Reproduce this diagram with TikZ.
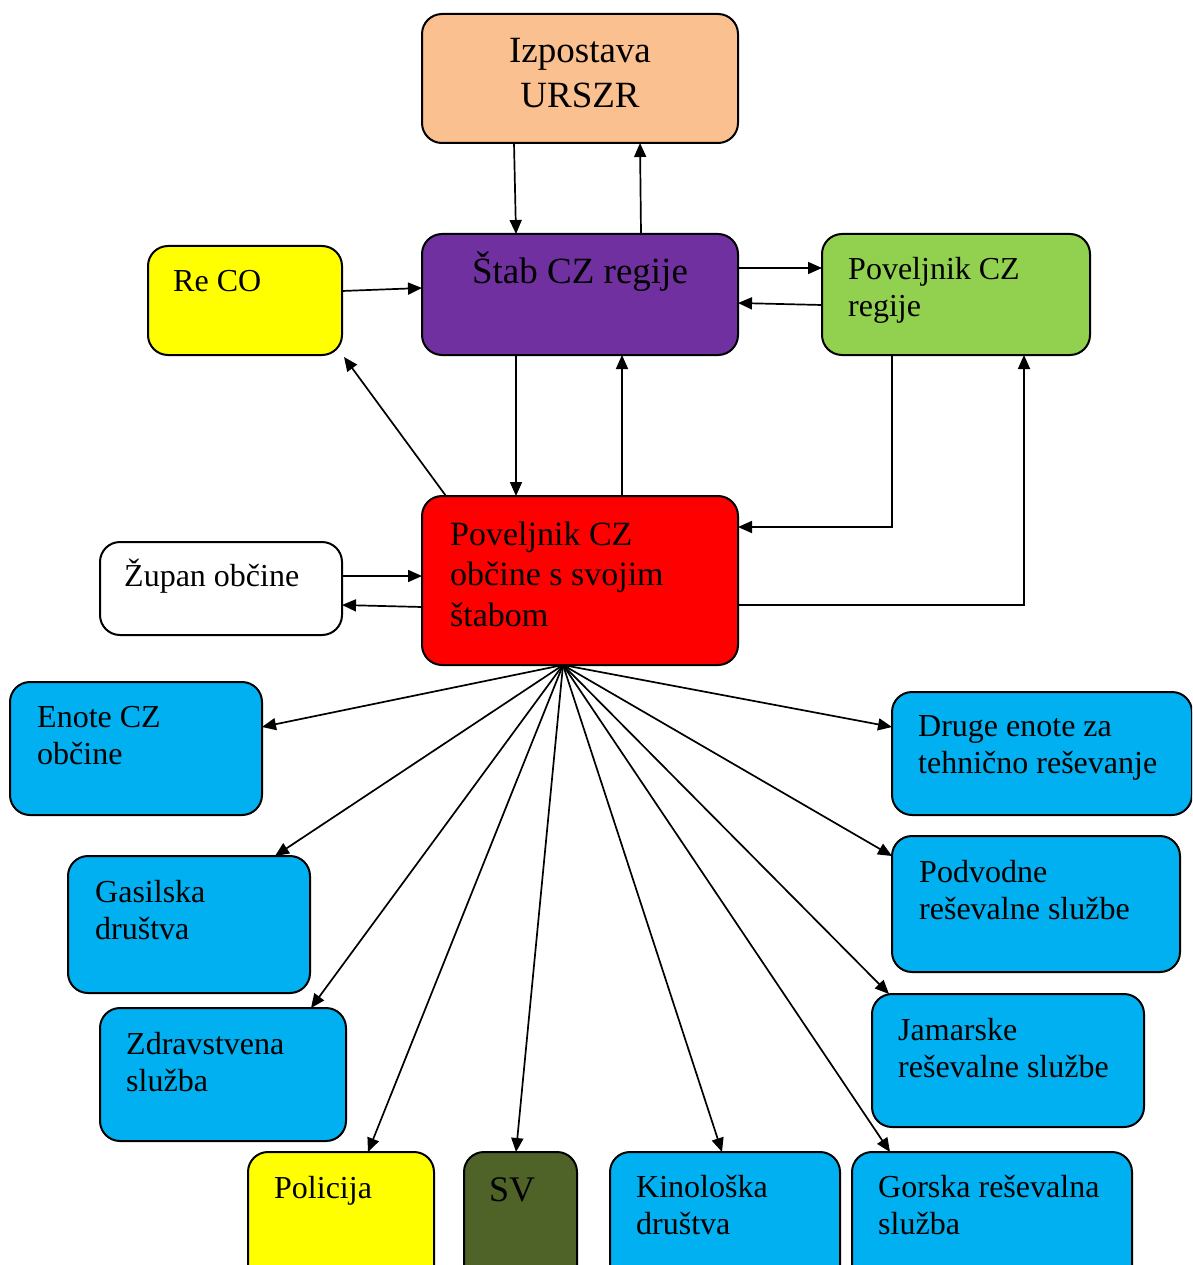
\documentclass[tikz,border=0pt]{standalone}
\usepackage{fontspec}
\setmainfont{Liberation Serif}
\usetikzlibrary{arrows.meta,calc}

\definecolor{peach}{HTML}{FAC090}
\definecolor{purpleB}{HTML}{7030A0}
\definecolor{greenB}{HTML}{92D050}
\definecolor{redB}{HTML}{FF0000}
\definecolor{blueB}{HTML}{00B0F0}
\definecolor{yellowB}{HTML}{FFFF00}
\definecolor{oliveB}{HTML}{4F6228}

\tikzset{
  box/.style={draw=black, line width=2pt, rounded corners=20pt, anchor=north west,
              outer sep=0pt, inner sep=0pt},
  % anchor = baseline of the last line of the text
  txt/.style={anchor=base west, inner sep=0pt, align=left,
              font=\fontsize{32}{37}\selectfont},
  arr/.style={line width=1.7pt, -{Triangle[length=14pt,width=12pt]}},
}

\begin{document}
\begin{tikzpicture}[x=1pt,y=-1pt]
\clip (0,0) rectangle (1192,1265);
\useasboundingbox (0,0) rectangle (1192,1265);

% boxes
\node[box, fill=peach,   minimum width=316pt, minimum height=129pt] (izp)  at (422,14) {};
\node[box, fill=purpleB, minimum width=316pt, minimum height=121pt] (stab) at (422,234) {};
\node[box, fill=yellowB, minimum width=194pt, minimum height=109pt] (reco) at (148,246) {};
\node[box, fill=greenB,  minimum width=268pt, minimum height=121pt] (reg)  at (822,234) {};
\node[box, fill=redB,    minimum width=316pt, minimum height=169pt] (pov)  at (422,496) {};
\node[box, fill=white,   minimum width=242pt, minimum height=93pt]  (zup)  at (100,542) {};
\node[box, fill=blueB,   minimum width=252pt, minimum height=133pt] (enote) at (10,682) {};
\node[box, fill=blueB,   minimum width=242pt, minimum height=137pt] (gas)  at (68,856) {};
\node[box, fill=blueB,   minimum width=246pt, minimum height=133pt] (zdr)  at (100,1008) {};
\node[box, fill=yellowB, minimum width=186pt, minimum height=140pt] (pol)  at (248,1152) {};
\node[box, fill=oliveB,  minimum width=113pt, minimum height=140pt] (sv)   at (464,1152) {};
\node[box, fill=blueB,   minimum width=230pt, minimum height=140pt] (kin)  at (610,1152) {};
\node[box, fill=blueB,   minimum width=280pt, minimum height=140pt] (gor)  at (852,1152) {};
\node[box, fill=blueB,   minimum width=300pt, minimum height=123pt] (dru)  at (892,692) {};
\node[box, fill=blueB,   minimum width=288pt, minimum height=136pt] (pod)  at (892,836) {};
\node[box, fill=blueB,   minimum width=272pt, minimum height=133pt] (jam)  at (872,994) {};

% texts
\node[txt, anchor=base, align=center, font=\fontsize{37}{45}\selectfont] (izp-t) at (580,108) {Izpostava\\URSZR};
\node[txt, anchor=base, font=\fontsize{37}{44}\selectfont] (stab-t) at (580,283) {Štab CZ regije};
\node[txt] (reco-t) at (173,291) {Re CO};
\node[txt] (reg-t) at (848,316) {Poveljnik CZ\\regije};
\node[txt, font=\fontsize{34}{40.5}\selectfont] (pov-t) at (450,626) {Poveljnik CZ\\občine s svojim\\štabom};
\node[txt] (zup-t) at (124,586) {Župan občine};
\node[txt] (enote-t) at (37,764) {Enote CZ\\občine};
\node[txt] (gas-t) at (95,939) {Gasilska\\društva};
\node[txt] (zdr-t) at (126,1091) {Zdravstvena\\služba};
\node[txt] (pol-t) at (274,1198) {Policija};
\node[txt, font=\fontsize{36}{40}\selectfont] (sv-t) at (489,1201) {SV};
\node[txt] (kin-t) at (636,1234) {Kinološka\\društva};
\node[txt] (gor-t) at (878,1234) {Gorska reševalna\\služba};
\node[txt] (dru-t) at (918,773) {Druge enote za\\tehnično reševanje};
\node[txt] (pod-t) at (919,919) {Podvodne\\reševalne službe};
\node[txt] (jam-t) at (898,1077) {Jamarske\\reševalne službe};

% links between the upper levels
\draw[arr] ($(izp.south west)+(92,0)$) -- ($(stab.north west)+(94,0)$);
\draw[arr] ($(stab.north west)+(219,0)$) -- ($(izp.south west)+(218,0)$);
\draw[arr] ($(reco.north east)+(0,45)$) -- ($(stab.north west)+(0,54)$);
\draw[arr] ($(stab.north east)+(0,34)$) -- ($(reg.north west)+(0,34)$);
\draw[arr] ($(reg.north west)+(0,71)$) -- ($(stab.north east)+(0,69)$);
\draw[arr] ($(stab.south west)+(94,0)$) -- ($(pov.north west)+(94,0)$);
\draw[arr] ($(pov.north west)+(200,0)$) -- ($(stab.south west)+(200,0)$);
\draw[arr] ($(pov.north west)+(24,0)$) -- ($(reco.south east)+(2,2)$);
\draw[arr] ($(reg.south west)+(70,0)$) |- ($(pov.north east)+(0,31)$);
\draw[arr] ($(pov.north east)+(0,109)$) -| ($(reg.south west)+(202,0)$);
\draw[arr] ($(zup.north east)+(0,34)$) -- ($(pov.north west)+(0,80)$);
\draw[arr] ($(pov.north west)+(0,111)$) -- ($(zup.north east)+(0,63)$);

% fan of units below the municipal commander
\coordinate (hub) at ($(pov.south)+(-17,0)$);
\draw[arr] (hub) -- ($(enote.north east)+(0,45)$);
\draw[arr] (hub) -- ($(gas.north west)+(207,0)$);
\draw[arr] (hub) -- ($(zdr.north west)+(211,0)$);
\draw[arr] (hub) -- ($(pol.north west)+(120,0)$);
\draw[arr] (hub) -- ($(sv.north west)+(52,0)$);
\draw[arr] (hub) -- ($(kin.north west)+(112,0)$);
\draw[arr] (hub) -- ($(gor.north west)+(38,0)$);
\draw[arr] (hub) -- ($(jam.north west)+(17,0)$);
\draw[arr] (hub) -- ($(pod.north west)+(0,20)$);
\draw[arr] (hub) -- ($(dru.north west)+(0,35)$);
\end{tikzpicture}
\end{document}
